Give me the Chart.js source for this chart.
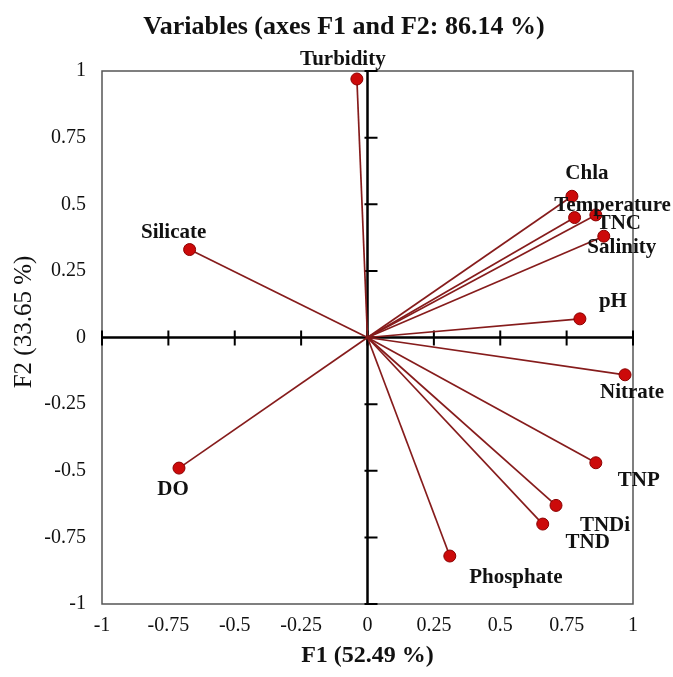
<!DOCTYPE html>
<html><head><meta charset="utf-8">
<script src="https://cdn.jsdelivr.net/npm/chart.js@4/dist/chart.umd.min.js"></script>
<style>html,body{margin:0;padding:0;background:#fff;}#wrap{width:673px;height:677px;position:relative;}</style>
</head><body><div id="wrap"><canvas id="c" width="673" height="677"></canvas></div>
<script>
// ---- data ----
const variables = ['Turbidity','Chla','Temperature','TNC','Salinity','pH','Nitrate','TNP','TNDi','TND','Phosphate','Silicate','DO'];
const f1 = [-0.04, 0.77, 0.78, 0.86, 0.89, 0.80, 0.97, 0.86, 0.71, 0.66, 0.31, -0.67, -0.71];
const f2 = [0.97, 0.53, 0.45, 0.46, 0.38, 0.07, -0.14, -0.47, -0.63, -0.70, -0.82, 0.33, -0.49];
const tickValues = [-1, -0.75, -0.5, -0.25, 0, 0.25, 0.5, 0.75, 1];
const tickLabels = ['-1', '-0.75', '-0.5', '-0.25', '0', '0.25', '0.5', '0.75', '1'];
const chartTitle = 'Variables (axes F1 and F2: 86.14 %)';
const xTitle = 'F1 (52.49 %)';
const yTitle = 'F2 (33.65 %)';
// label placement (pixel offsets from each point)
const labelOffsets = [[-14,-19],[15,-23],[38,-12],[23,9],[18,11],[33,-17],[7,18],[43,18],[49,20],[45,19],[66,22],[-16,-17],[-6,21]];

const SERIF = '"Liberation Serif", "Times New Roman", serif';

const datasets = variables.map((name, i) => ({
  label: name,
  data: [{x: 0, y: 0}, {x: f1[i], y: f2[i]}],
  showLine: true,
  borderColor: '#861c1c',
  borderWidth: 1.7,
  pointRadius: [0, 6],
  pointHoverRadius: [0, 6],
  pointBackgroundColor: '#cc0a0a',
  pointBorderColor: '#8a0000',
  pointBorderWidth: 1
}));

const decor = {
  id: 'decor',
  beforeDatasetsDraw(chart) {
    const {ctx, chartArea: a, scales: {x, y}} = chart;
    ctx.save();
    ctx.strokeStyle = '#555';
    ctx.lineWidth = 1.5;
    ctx.strokeRect(a.left, a.top, a.right - a.left, a.bottom - a.top);
    const x0 = x.getPixelForValue(0), y0 = y.getPixelForValue(0);
    ctx.strokeStyle = '#000';
    ctx.lineWidth = 2.5;
    ctx.beginPath();
    ctx.moveTo(x.getPixelForValue(-1), y0); ctx.lineTo(x.getPixelForValue(1), y0);
    ctx.moveTo(x0, y.getPixelForValue(-1)); ctx.lineTo(x0, y.getPixelForValue(1));
    ctx.stroke();
    ctx.lineWidth = 2;
    ctx.beginPath();
    tickValues.forEach(v => {
      const px = x.getPixelForValue(v);
      ctx.moveTo(px, y0 - 7); ctx.lineTo(px, y0 + 8);
      const py = y.getPixelForValue(v);
      ctx.moveTo(x0 - 3, py); ctx.lineTo(x0 + 10, py);
    });
    ctx.stroke();
    ctx.restore();
  },
  afterDatasetsDraw(chart) {
    const {ctx, scales: {x, y}} = chart;
    ctx.save();
    ctx.font = 'bold 21px ' + SERIF;
    ctx.fillStyle = '#111';
    ctx.textAlign = 'center';
    ctx.textBaseline = 'middle';
    variables.forEach((name, i) => {
      const px = x.getPixelForValue(f1[i]) + labelOffsets[i][0];
      const py = y.getPixelForValue(f2[i]) + labelOffsets[i][1];
      ctx.fillText(name, px, py);
    });
    ctx.restore();
  },
  afterDraw(chart) {
    const {ctx, chartArea: a} = chart;
    ctx.save();
    ctx.fillStyle = '#111';
    ctx.textAlign = 'center';
    ctx.textBaseline = 'middle';
    ctx.font = 'bold 26px ' + SERIF;
    ctx.fillText(chartTitle, 344, 27);
    ctx.font = 'bold 24px ' + SERIF;
    ctx.fillText(xTitle, (a.left + a.right) / 2, 656);
    ctx.translate(24, 322);
    ctx.rotate(-Math.PI / 2);
    ctx.font = '25px ' + SERIF;
    ctx.fillText(yTitle, 0, 0);
    ctx.restore();
  }
};

const tickCfg = (pad) => ({
  callback: v => tickLabels[tickValues.indexOf(v)],
  font: {family: SERIF, size: 20},
  color: '#111',
  padding: pad,
  maxRotation: 0,
  autoSkip: false
});

new Chart(document.getElementById('c'), {
  type: 'scatter',
  data: {datasets},
  options: {
    responsive: false,
    animation: false,
    devicePixelRatio: 1,
    layout: {padding: {top: 71, right: 40, bottom: 0, left: 0}},
    plugins: {legend: {display: false}, tooltip: {enabled: false}, title: {display: false}},
    scales: {
      x: {
        type: 'linear', min: -1, max: 1,
        afterBuildTicks: s => { s.ticks = tickValues.map(v => ({value: v})); },
        afterFit: s => { s.height = 73; },
        grid: {display: false, drawTicks: false}, border: {display: false},
        ticks: tickCfg(10)
      },
      y: {
        type: 'linear', min: -1, max: 1,
        afterBuildTicks: s => { s.ticks = tickValues.map(v => ({value: v})); },
        afterFit: s => { s.width = 102; },
        grid: {display: false, drawTicks: false}, border: {display: false},
        ticks: tickCfg(16)
      }
    }
  },
  plugins: [decor]
});
</script></body></html>
